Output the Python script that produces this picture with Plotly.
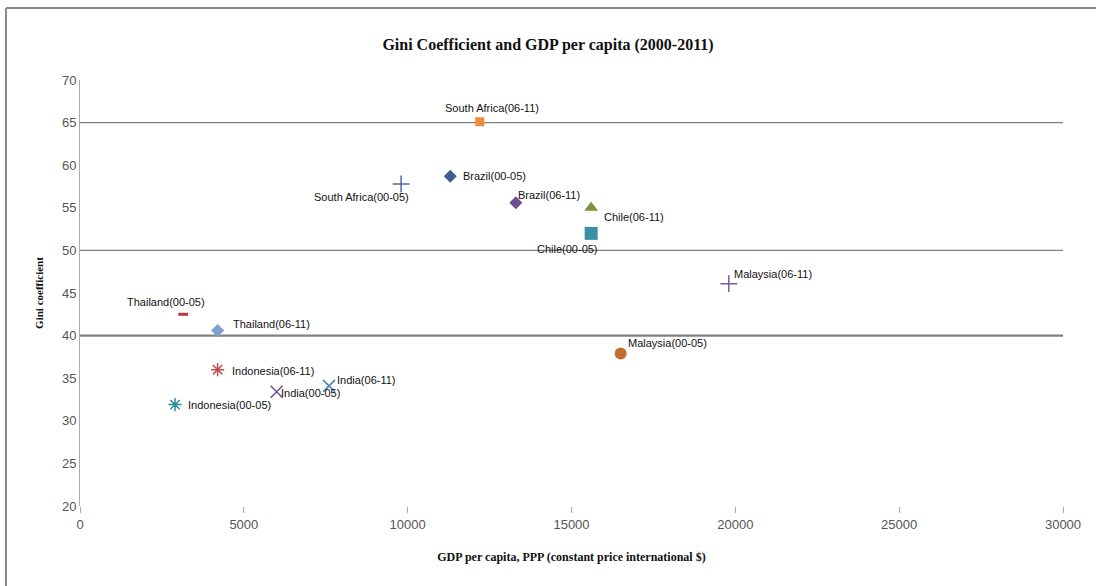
import plotly.graph_objects as go

# ---- data ----
labels = ["South Africa(06-11)", "South Africa(00-05)", "Brazil(00-05)", "Brazil(06-11)",
          "Chile(06-11)", "Chile(00-05)", "Malaysia(06-11)", "Malaysia(00-05)",
          "Thailand(00-05)", "Thailand(06-11)", "Indonesia(06-11)", "Indonesia(00-05)",
          "India(00-05)", "India(06-11)"]
gdp = [12200, 9800, 11300, 13300, 15600, 15600, 19800, 16500, 3150, 4200, 4200, 2900, 6000, 7600]
gini = [65.1, 57.8, 58.7, 55.6, 55.0, 52.0, 46.1, 37.9, 42.5, 40.6, 36.0, 31.9, 33.4, 34.1]
ref_lines = [65, 50, 40]
x_ticks = [0, 5000, 10000, 15000, 20000, 25000, 30000]
x_ticktext = ["0", "5000", "10000", "15000", "20000", "25000", "30000"]
y_ticks = [20, 25, 30, 35, 40, 45, 50, 55, 60, 65, 70]

# ---- styles ----
symbols = ["square", "cross-thin-open", "diamond", "diamond", "triangle-up", "square",
           "cross-thin-open", "circle", "line-ew-open", "diamond", "asterisk-open",
           "asterisk-open", "x-thin-open", "x-thin-open"]
colors = ["#F08C3C", "#4A6FA8", "#3D5F92", "#6C4F8E", "#77933C", "#3A8FA6",
          "#7A5BA0", "#C0702E", "#B23A3A", "#7F9FCF", "#C0504D", "#2F8A9E",
          "#6C4F8E", "#4F81BD"]
sizes = [9, 12, 10, 10, 12, 13, 12, 12, 7, 10, 11, 11, 12, 12]
# label offsets (px): (xanchor, yanchor, xshift, yshift)
lab_pos = [("center", "bottom", 12, 6), ("right", "top", 10, -5), ("left", "middle", 11, 0),
           ("left", "bottom", 0, 0), ("left", "top", 11, -1), ("center", "top", -24, -8),
           ("left", "bottom", 3, 2), ("left", "bottom", 5, 2), ("center", "bottom", -17, 4),
           ("left", "bottom", 13, -2), ("left", "middle", 12, -1), ("left", "middle", 11, 0),
           ("left", "middle", 2, -1), ("left", "bottom", 6, -2)]

fig = go.Figure()
for i in range(len(labels)):
    lw = 1.5 if symbols[i].endswith("open") else 0
    if symbols[i] == "line-ew-open":
        lw = 3
    fig.add_trace(go.Scatter(
        x=[gdp[i]], y=[gini[i]], mode="markers", name=labels[i],
        marker=dict(symbol=symbols[i], size=sizes[i], color=colors[i],
                    line=dict(color=colors[i], width=lw)),
        showlegend=False, hoverinfo="x+y+name"))
    xa, ya, xs, ys = lab_pos[i]
    fig.add_annotation(x=gdp[i], y=gini[i], text=labels[i], showarrow=False,
                       xanchor=xa, yanchor=ya, xshift=xs, yshift=ys,
                       font=dict(family="Liberation Sans Narrow, Liberation Sans, Arial", size=11, color="#111111"))

for v in ref_lines:
    fig.add_shape(type="line", xref="x", yref="y", x0=0, x1=30000, y0=v, y1=v,
                  line=dict(color="#808080", width=2.2 if v == 40 else 1.3), layer="below")

# outer chart border (top and left)
fig.add_shape(type="line", xref="paper", yref="paper", x0=-0.0753, x1=1.04, y0=1.169, y1=1.169,
              line=dict(color="#888888", width=2))
fig.add_shape(type="line", xref="paper", yref="paper", x0=-0.0753, x1=-0.0753, y0=1.169, y1=-0.2,
              line=dict(color="#888888", width=2))

fig.update_layout(
    width=1096, height=586,
    margin=dict(l=80, r=33, t=80, b=80),
    paper_bgcolor="white", plot_bgcolor="white",
    title=dict(text="<b>Gini Coefficient and GDP per capita (2000-2011)</b>", x=0.5, xanchor="center",
               y=0.925, yanchor="middle",
               font=dict(family="Liberation Serif, Times New Roman", size=16, color="#111111")),
    xaxis=dict(range=[0, 30000], tickvals=x_ticks, ticktext=x_ticktext, showgrid=False, zeroline=False,
               showline=False, ticks="outside", ticklen=6, tickcolor="#aaaaaa",
               tickfont=dict(family="Liberation Sans Narrow, Liberation Sans, Arial", size=13, color="#555555"),
               title=dict(text="<b>GDP per capita, PPP (constant price international $)</b>", standoff=22,
                          font=dict(family="Liberation Serif, Times New Roman", size=12, color="#111111"))),
    yaxis=dict(range=[20, 70], tickvals=y_ticks, showgrid=False, zeroline=False,
               showline=True, linecolor="#aaaaaa", linewidth=1, ticks="",
               tickfont=dict(family="Liberation Sans Narrow, Liberation Sans, Arial", size=13, color="#555555"),
               title=dict(text="<b>Gini coefficient</b>", standoff=16,
                          font=dict(family="Liberation Serif, Times New Roman", size=11, color="#111111"))),
)

fig.write_html("out.html")
